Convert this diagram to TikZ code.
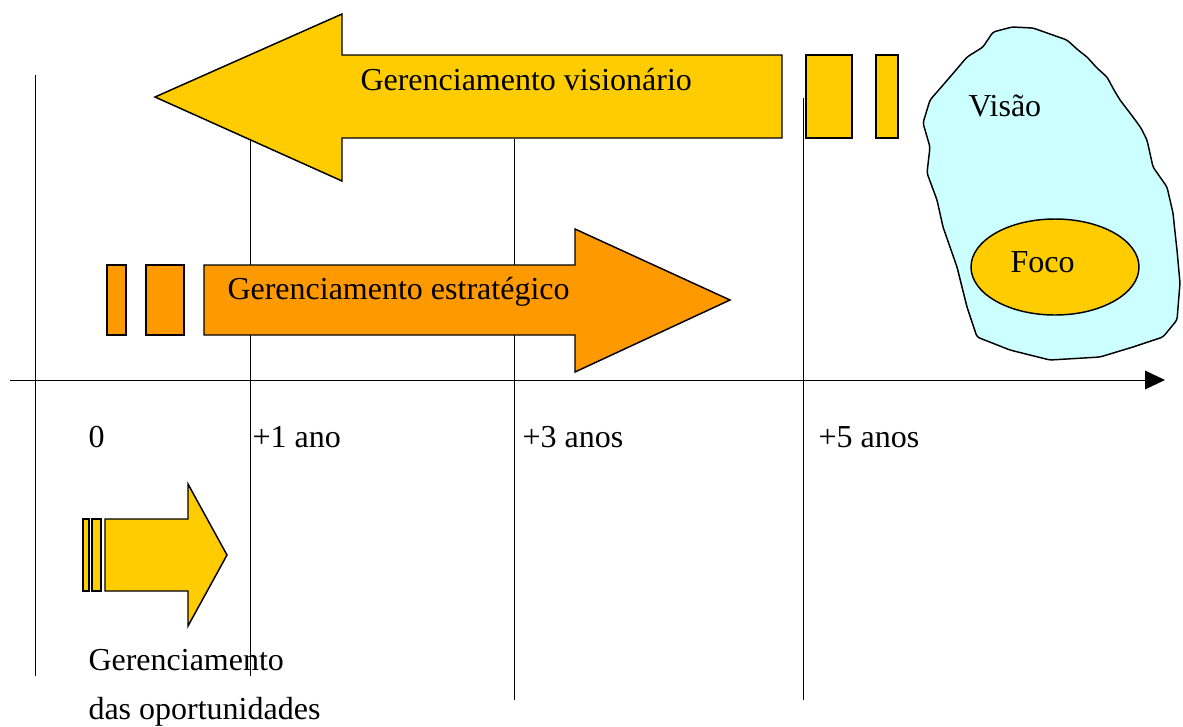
\documentclass[tikz,border=0pt]{standalone}
\usepackage{fontspec}
\setmainfont{Liberation Serif}
\definecolor{gold}{RGB}{255,204,0}
\definecolor{laranja}{RGB}{255,153,0}
\definecolor{ceu}{RGB}{204,255,255}
\tikzset{every picture/.style={line width=0.75pt}}
\tikzset{forma/.style={draw=black,line width=1.1pt,line join=miter},
  rotulo/.style={inner sep=0pt,anchor=west,font=\fontsize{24}{28}\selectfont}}

\begin{document}
\begin{tikzpicture}[x=0.75pt,y=0.75pt,yscale=-1,xscale=1]
	\path (0,0) rectangle (1183,726); %set diagram to the size of the reference

	%Straight Lines: time marks
	\draw    (35,75) -- (35,676) ;
	\draw    (250,139) -- (250,676) ;
	\draw    (514,139) -- (514,700) ;
	\draw    (803,98) -- (803,700) ;

	%Shape: Left Arrow (visionario)
	\draw [forma, fill=gold]  (782,55) -- (342,55) -- (342,14) -- (155,97) -- (342,181) -- (342,138) -- (782,138) -- cycle ;
	%Shape: Rectangle
	\draw [forma, fill=gold]  (806,55) rectangle (852,138) ;
	%Shape: Rectangle
	\draw [forma, fill=gold]  (876,55) rectangle (898,138) ;

	%Shape: Right Arrow (estrategico)
	\draw [forma, fill=laranja]  (204,265) -- (575,265) -- (575,229) -- (730,300) -- (575,372) -- (575,335) -- (204,335) -- cycle ;
	%Shape: Rectangle
	\draw [forma, fill=laranja]  (107,265) rectangle (126,335) ;
	%Shape: Rectangle
	\draw [forma, fill=laranja]  (146,265) rectangle (184,335) ;

	%Shape: Right Arrow (oportunidades)
	\draw [forma, fill=gold]  (105,519) -- (188,519) -- (188,484) -- (227,555) -- (188,626) -- (188,591) -- (105,591) -- cycle ;
	%Shape: Rectangle
	\draw [forma, fill=gold]  (83,519) rectangle (89,591) ;
	%Shape: Rectangle
	\draw [forma, fill=gold]  (92,519) rectangle (101,591) ;

	%Shape: Free Drawing (visao)
	\draw [forma, fill=ceu, rounded corners=2pt]  (993,32) -- (1012,27) -- (1033,28) -- (1050,34) -- (1067,40) -- (1078,50) -- (1087,57) -- (1097,68) -- (1107,77) -- (1114,90) -- (1120,100) -- (1133,117) -- (1141,128) -- (1147,140) -- (1153,167) -- (1167,187) -- (1173,213) -- (1175,232) -- (1177,250) -- (1180,283) -- (1177,320) -- (1163,337) -- (1133,347) -- (1100,357) -- (1050,360) -- (1010,350) -- (977,337) -- (967,307) -- (957,267) -- (943,227) -- (937,200) -- (927,173) -- (930,147) -- (923,123) -- (930,100) -- (950,77) -- (967,57) -- (983,47) -- cycle ;
	%Shape: Ellipse (foco)
	\draw [forma, fill=gold]  (1055,267) ellipse (84 and 48) ;

	%Straight Lines: time axis
	\draw    (10,380) -- (1150,380) ;
	\draw [shift={(1165,380)}, rotate = 180] [fill=black][line width=0.08] [draw opacity=0] (20,-9.5) -- (0,0) -- (20,9.5) -- cycle    ;

	% Text Node
	\draw (360,80) node [rotulo] (visionario) {Gerenciamento visionário};
	% Text Node
	\draw (227,292) node [rotulo] (estrategico) {Gerenciamento estratégico};
	% Text Node
	\draw (968,106) node [rotulo] (visao) {Visão};
	% Text Node
	\draw (1010,262) node [rotulo] (foco) {Foco};
	% Text Node
	\draw (88,437) node [rotulo] (ano0) {0};
	% Text Node
	\draw (252,437) node [rotulo] (ano1) {+1 ano};
	% Text Node
	\draw (522,437) node [rotulo] (ano3) {+3 anos};
	% Text Node
	\draw (818,437) node [rotulo] (ano5) {+5 anos};
	% Text Node
	\draw (88,660) node [rotulo] (oport1) {Gerenciamento};
	% Text Node
	\draw (88,712) node [rotulo] (oport2) {das oportunidades};

\end{tikzpicture}
\end{document}
